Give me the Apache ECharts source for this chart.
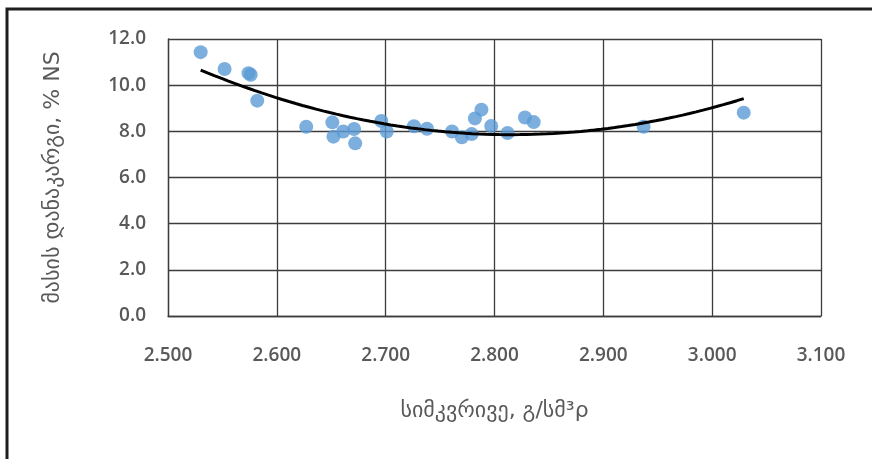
<!DOCTYPE html>
<html>
<head>
<meta charset="utf-8">
<script src="https://cdn.jsdelivr.net/npm/echarts@6/dist/echarts.min.js"></script>
<style>
  html, body { margin: 0; padding: 0; background: #fff; }
  #chart { width: 872px; height: 459px; }
</style>
</head>
<body>
<div id="chart"></div>
<script>
// Density (g/cm3) of each sample
const density = [
  2.530, 2.552, 2.574, 2.576, 2.582, 2.627, 2.651, 2.652, 2.661, 2.671,
  2.672, 2.696, 2.701, 2.726, 2.738, 2.761, 2.770, 2.779, 2.782, 2.788,
  2.797, 2.812, 2.828, 2.836, 2.937, 3.029
];
// Mass loss, % NS
const massLoss = [
  11.43, 10.70, 10.52, 10.45, 9.33, 8.20, 8.39, 7.77, 7.99, 8.10,
  7.48, 8.45, 7.99, 8.22, 8.11, 7.99, 7.74, 7.88, 8.56, 8.94,
  8.23, 7.93, 8.60, 8.40, 8.20, 8.81
];
const xTicks = { min: 2.5, max: 3.1, step: 0.1 };
const yTicks = { min: 0, max: 12, step: 2 };

const xTitle = 'სიმკვრივე, გ/სმ³ρ';
const yTitle = 'მასის დანაკარგი, % NS';

// Second-order polynomial trend (least squares)
function quadFit(xs, ys) {
  let n = xs.length, s = [0, 0, 0, 0, 0], t = [0, 0, 0];
  const x0 = xs.reduce((a, b) => a + b, 0) / n;
  for (let i = 0; i < n; i++) {
    const x = xs[i] - x0;
    for (let k = 0; k < 5; k++) s[k] += Math.pow(x, k);
    for (let k = 0; k < 3; k++) t[k] += ys[i] * Math.pow(x, k);
  }
  const M = [[s[0], s[1], s[2], t[0]], [s[1], s[2], s[3], t[1]], [s[2], s[3], s[4], t[2]]];
  for (let c = 0; c < 3; c++) {
    for (let r = c + 1; r < 3; r++) {
      const f = M[r][c] / M[c][c];
      for (let k = c; k < 4; k++) M[r][k] -= f * M[c][k];
    }
  }
  const b = [0, 0, 0];
  for (let r = 2; r >= 0; r--) {
    let v = M[r][3];
    for (let k = r + 1; k < 3; k++) v -= M[r][k] * b[k];
    b[r] = v / M[r][r];
  }
  return x => { const d = x - x0; return b[0] + b[1] * d + b[2] * d * d; };
}

const trend = quadFit(density, massLoss);
const xLo = Math.min(...density), xHi = Math.max(...density);
const trendPts = [];
for (let i = 0; i <= 80; i++) {
  const x = xLo + (xHi - xLo) * i / 80;
  trendPts.push([x, trend(x)]);
}

const labelFont = { fontFamily: 'Open Sans, DejaVu Sans, sans-serif', fontSize: 19, fontWeight: 600, color: '#595959' };
const titleFont = { fontFamily: 'DejaVu Sans, sans-serif', fontSize: 22, color: '#595959' };
const gridLine = { color: '#3c3c3c', width: 1.3 };

const chart = echarts.init(document.getElementById('chart'), null, { renderer: 'canvas' });
chart.setOption({
  animation: false,
  backgroundColor: '#ffffff',
  grid: { left: 168, right: 51, top: 39, bottom: 143 },
  xAxis: {
    type: 'value',
    min: xTicks.min, max: xTicks.max, interval: xTicks.step,
    axisLine: { show: true, lineStyle: gridLine },
    axisTick: { show: false },
    splitLine: { show: true, lineStyle: gridLine },
    axisLabel: Object.assign({ margin: 30, formatter: v => v.toFixed(3) }, labelFont),
    name: xTitle, nameLocation: 'middle', nameGap: 84,
    nameTextStyle: titleFont
  },
  yAxis: {
    type: 'value',
    min: yTicks.min, max: yTicks.max, interval: yTicks.step,
    axisLine: { show: true, lineStyle: gridLine },
    axisTick: { show: false },
    splitLine: { show: true, lineStyle: gridLine },
    axisLabel: Object.assign({ margin: 22, formatter: v => v.toFixed(1) }, labelFont),
    name: yTitle, nameLocation: 'middle', nameGap: 104, nameRotate: 90,
    nameTextStyle: titleFont
  },
  graphic: [{
    type: 'rect',
    shape: { x: 7, y: 9, width: 900, height: 500 },
    style: { fill: 'none', stroke: '#1e1e1e', lineWidth: 3 },
    silent: true
  }],
  series: [
    {
      type: 'scatter',
      data: density.map((x, i) => [x, massLoss[i]]),
      symbolSize: 14,
      itemStyle: { color: '#5b9bd5' }
    },
    {
      type: 'line',
      data: trendPts,
      showSymbol: false,
      smooth: false,
      lineStyle: { color: '#000000', width: 3 },
      z: 5
    }
  ]
});
</script>
</body>
</html>
